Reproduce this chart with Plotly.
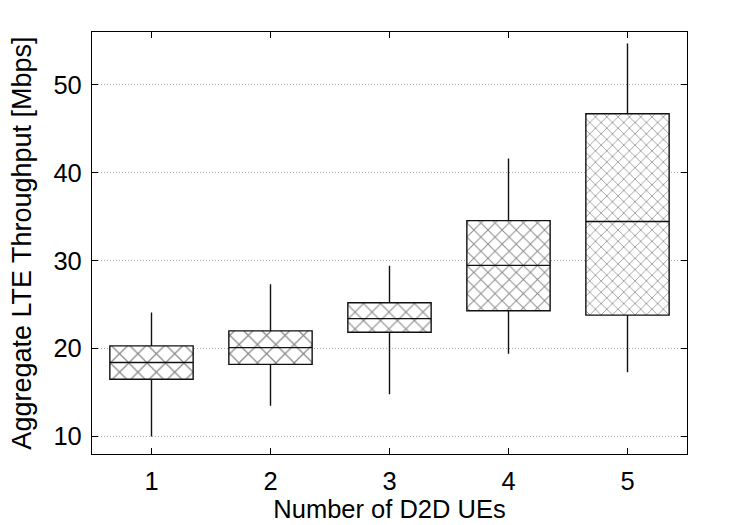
import plotly.graph_objects as go

categories = [1, 2, 3, 4, 5]
lower = [10.0, 13.5, 14.8, 19.4, 17.3]
q1 = [16.5, 18.2, 21.85, 24.3, 23.8]
median = [18.4, 20.1, 23.4, 29.45, 34.45]
q3 = [20.3, 22.0, 25.2, 34.55, 46.7]
upper = [24.1, 27.3, 29.4, 41.6, 54.7]

hatch_size = [13, 13, 12, 10, 8]

fig = go.Figure()

fig.add_trace(go.Bar(
    x=categories,
    y=[b - a for a, b in zip(q1, q3)],
    base=q1,
    width=0.7,
    marker=dict(
        color="white",
        line=dict(width=0),
        pattern=dict(shape="x", fgcolor="#111111", bgcolor="white",
                     size=hatch_size, solidity=0.18, fillmode="overlay"),
    ),
    showlegend=False,
    hoverinfo="skip",
))

fig.add_trace(go.Box(
    x=categories,
    q1=q1, median=median, q3=q3,
    lowerfence=lower, upperfence=upper,
    width=0.7,
    whiskerwidth=0,
    fillcolor="rgba(0,0,0,0)",
    line=dict(color="#111111", width=1.4),
    showlegend=False,
    boxpoints=False,
))

axis_font = dict(family="Liberation Sans, Arial, sans-serif", size=25.5, color="black")
ytitle_font = dict(family="Liberation Sans, Arial, sans-serif", size=27, color="black")

fig.update_layout(
    width=750, height=525,
    margin=dict(l=92, r=63, t=32, b=71),
    plot_bgcolor="white", paper_bgcolor="white",
    barmode="overlay",
    font=axis_font,
    xaxis=dict(
        range=[0.5, 5.5], tickvals=categories, ticktext=[str(c) for c in categories],
        ticks="inside", ticklen=6, tickcolor="black", mirror="ticks",
        showline=True, linecolor="black", linewidth=1.3,
        showgrid=False, zeroline=False, ticklabelstandoff=4,
        title=dict(text="Number of D2D UEs", standoff=0, font=axis_font),
        tickfont=axis_font,
    ),
    yaxis=dict(
        range=[8, 56], tickvals=[10, 20, 30, 40, 50],
        ticks="inside", ticklen=6, tickcolor="black", mirror="ticks",
        showline=True, linecolor="black", linewidth=1.3,
        showgrid=True, gridcolor="#aaaaaa", griddash="1px,2px", gridwidth=1,
        zeroline=False, ticklabelstandoff=4,
        title=dict(text="Aggregate LTE Throughput [Mbps]", standoff=13, font=ytitle_font),
        tickfont=axis_font,
    ),
)

fig.write_html("out.html")
